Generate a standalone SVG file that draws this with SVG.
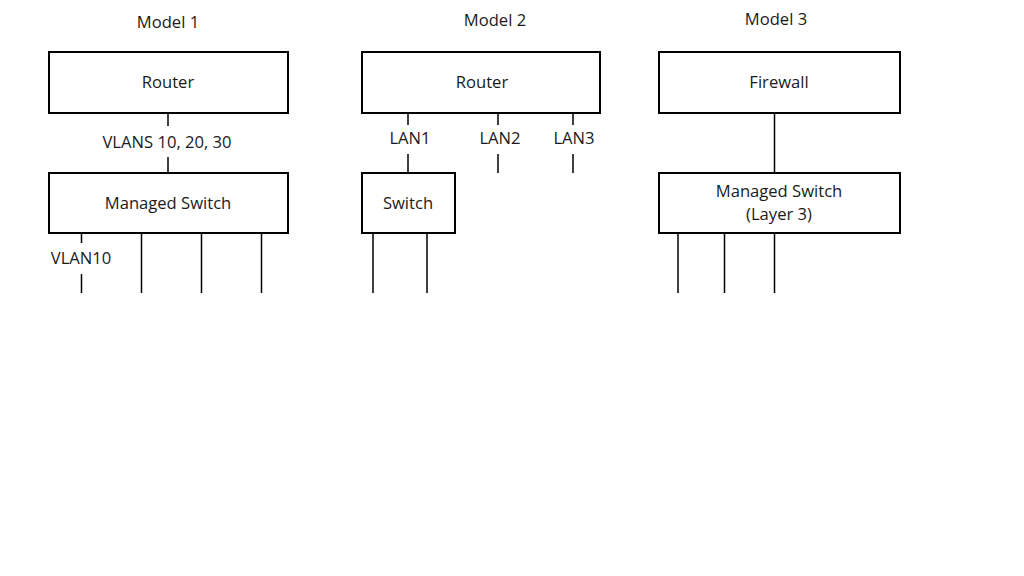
<svg xmlns="http://www.w3.org/2000/svg" width="1024" height="576" viewBox="0 0 1024 576">
<style>
.box{fill:#fff;stroke:#000;stroke-width:2}
.ln{stroke:#000;stroke-width:1.5;fill:none}
text{font-family:"Open Sans","Liberation Sans",sans-serif;font-size:16.6px;fill:#1a1a1a;text-anchor:middle}
</style>
<rect width="1024" height="576" fill="#fff"/>
<g id="titles">
<text x="168" y="28">Model 1</text>
<text x="495" y="26">Model 2</text>
<text x="776" y="25">Model 3</text>
</g>
<g id="connectors">
<line class="ln" x1="168" y1="113" x2="168" y2="126"/>
<line class="ln" x1="168" y1="157" x2="168" y2="173"/>
<line class="ln" x1="81.5" y1="233" x2="81.5" y2="243"/>
<line class="ln" x1="81.5" y1="274" x2="81.5" y2="293"/>
<line class="ln" x1="141.5" y1="233" x2="141.5" y2="293"/>
<line class="ln" x1="201.5" y1="233" x2="201.5" y2="293"/>
<line class="ln" x1="261.5" y1="233" x2="261.5" y2="293"/>
<line class="ln" x1="408" y1="113" x2="408" y2="125"/>
<line class="ln" x1="498" y1="113" x2="498" y2="125"/>
<line class="ln" x1="573" y1="113" x2="573" y2="125"/>
<line class="ln" x1="408" y1="154" x2="408" y2="173"/>
<line class="ln" x1="498" y1="154" x2="498" y2="173"/>
<line class="ln" x1="573" y1="154" x2="573" y2="173"/>
<line class="ln" x1="373" y1="233" x2="373" y2="293"/>
<line class="ln" x1="427" y1="233" x2="427" y2="293"/>
<line class="ln" x1="774.5" y1="113" x2="774.5" y2="173"/>
<line class="ln" x1="678" y1="233" x2="678" y2="293"/>
<line class="ln" x1="724.5" y1="233" x2="724.5" y2="293"/>
<line class="ln" x1="774.5" y1="233" x2="774.5" y2="293"/>
</g>
<g id="labels">
<text x="167" y="148">VLANS 10, 20, 30</text>
<text x="81" y="264">VLAN10</text>
<text x="410" y="144">LAN1</text>
<text x="500" y="144">LAN2</text>
<text x="574" y="144">LAN3</text>
</g>
<g id="m1-router"><rect class="box" x="49" y="52" width="239" height="61"/><text x="168" y="88">Router</text></g>
<g id="m1-switch"><rect class="box" x="49" y="173" width="239" height="60"/><text x="168" y="209">Managed Switch</text></g>
<g id="m2-router"><rect class="box" x="362" y="52" width="238" height="61"/><text x="482" y="88">Router</text></g>
<g id="m2-switch"><rect class="box" x="362" y="173" width="93" height="60"/><text x="408" y="209">Switch</text></g>
<g id="m3-firewall"><rect class="box" x="659" y="52" width="241" height="61"/><text x="779" y="88">Firewall</text></g>
<g id="m3-switch"><rect class="box" x="659" y="173" width="241" height="60"/><text x="779" y="197">Managed Switch</text><text x="779" y="220">(Layer 3)</text></g>
</svg>
